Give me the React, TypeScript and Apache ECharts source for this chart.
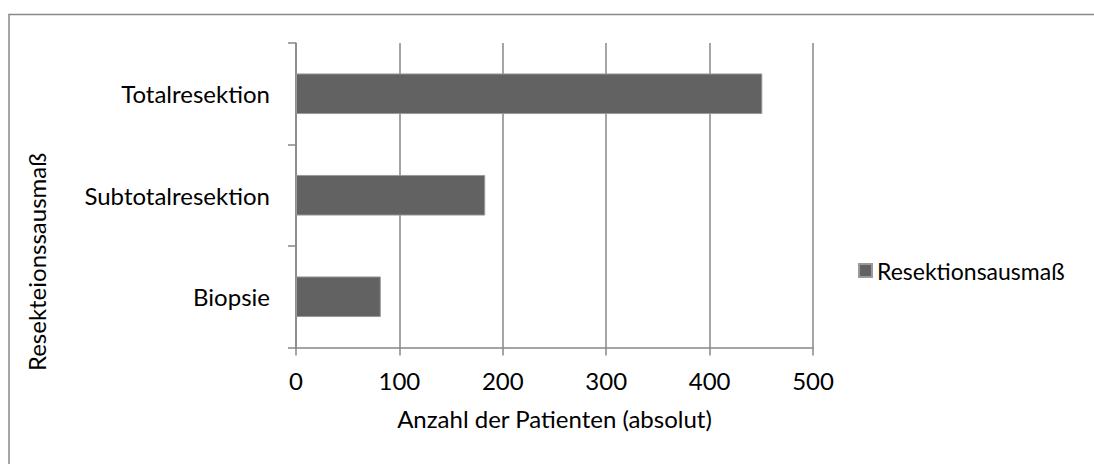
import React, { useEffect, useRef } from "react";
import * as echarts from "echarts";

const categories = ["Totalresektion", "Subtotalresektion", "Biopsie"];
const values = [451, 183, 82];
const seriesName = "Resektionsausmaß";
const xAxisTitle = "Anzahl der Patienten (absolut)";
const yAxisTitle = "Resekteionssausmaß";
const xTicks = { min: 0, max: 500, interval: 100 };

const FONT = "Lato, 'Open Sans', sans-serif";
const GRID_COLOR = "#878787";

export default function App() {
  const ref = useRef<HTMLDivElement>(null);
  useEffect(() => {
    if (!ref.current) return;
    const chart = echarts.init(ref.current, null, { renderer: "svg" });
    chart.setOption({
      animation: false,
      backgroundColor: "#ffffff",
      textStyle: { fontFamily: FONT, color: "#000" },
      grid: { left: 296, right: 281, top: 43, bottom: 116.5, containLabel: false },
      legend: {
        left: 858,
        top: 259,
        padding: 0,
        icon: "rect",
        itemWidth: 13,
        itemHeight: 13,
        textStyle: { fontFamily: FONT, fontSize: 23, color: "#000" },
        data: [seriesName],
      },
      xAxis: {
        type: "value",
        min: xTicks.min,
        max: xTicks.max,
        interval: xTicks.interval,
        name: xAxisTitle,
        nameLocation: "middle",
        nameGap: 59,
        nameTextStyle: { fontFamily: FONT, fontSize: 24, color: "#000" },
        axisLine: { show: true, lineStyle: { color: GRID_COLOR, width: 1.5 } },
        axisTick: { show: true, length: 8, lineStyle: { color: GRID_COLOR, width: 1.5 } },
        axisLabel: { margin: 21, fontFamily: FONT, fontSize: 24, color: "#000" },
        splitLine: { show: true, lineStyle: { color: GRID_COLOR, width: 1.5 } },
      },
      yAxis: {
        type: "category",
        data: categories,
        inverse: true,
        axisLine: { show: true, lineStyle: { color: GRID_COLOR, width: 1.5 } },
        axisTick: { show: true, length: 8, lineStyle: { color: GRID_COLOR, width: 1.5 } },
        axisLabel: { margin: 26, fontFamily: FONT, fontSize: 24, color: "#000" },
        splitLine: { show: false },
      },
      series: [
        {
          name: seriesName,
          type: "bar",
          data: values,
          barCategoryGap: "60%",
          itemStyle: { color: "#626262", borderColor: "#9a9a9a", borderWidth: 1 },
        },
      ],
      graphic: [
        {
          type: "rect",
          left: 6.5,
          top: 12,
          shape: { x: 0, y: 0, width: 1200, height: 600 },
          style: { fill: "none", stroke: "#888888", lineWidth: 1.5 },
          silent: true,
          z: -1,
        },
        {
          type: "text",
          x: 36,
          y: 262,
          rotation: Math.PI / 2,
          style: {
            text: yAxisTitle,
            font: `24px ${FONT}`,
            fill: "#000",
            align: "center",
            verticalAlign: "middle",
          },
        },
      ],
    });
    return () => chart.dispose();
  }, []);
  return (
    <div
      ref={ref}
      style={{ position: "absolute", left: 0, top: 0, width: 1094, height: 464, background: "#fff" }}
    />
  );
}
